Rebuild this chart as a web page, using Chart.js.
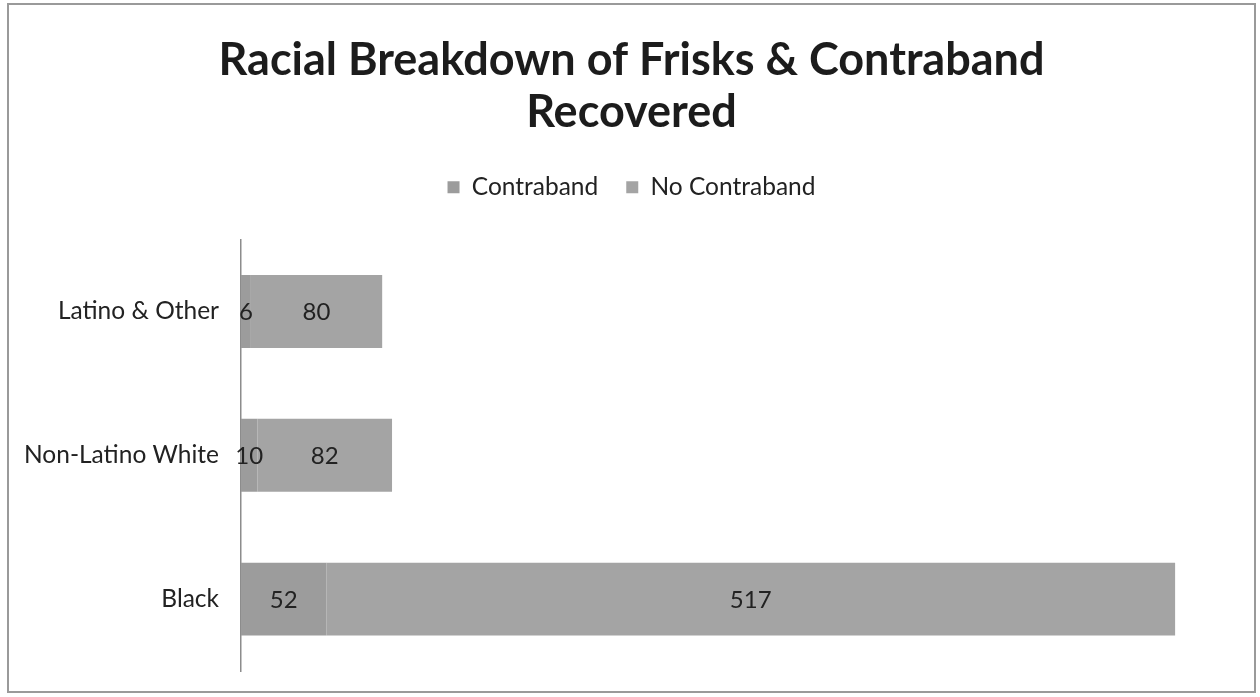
<!DOCTYPE html>
<html>
<head>
<meta charset="utf-8">
<script src="https://cdn.jsdelivr.net/npm/chart.js@4.4.1/dist/chart.umd.min.js"></script>
<style>
  html, body { margin: 0; padding: 0; background: #ffffff; }
  #frame {
    position: absolute; left: 7px; top: 3px;
    width: 1245px; height: 686px;
    border: 2px solid #9a9a9a;
    background: #ffffff;
  }
  #chart { display: block; }
</style>
</head>
<body>
<div id="frame"><canvas id="chart" width="1245" height="686"></canvas></div>
<script>
// Stop-and-frisk outcomes by race
const categories = ["Latino & Other", "Non-Latino White", "Black"];
const contraband = [6, 10, 52];
const noContraband = [80, 82, 517];
const seriesNames = ["Contraband", "No Contraband"];

const FONT = "Lato, 'Noto Sans', sans-serif";

// Writes each segment's value at the centre of its bar piece
const segmentLabels = {
  id: "segmentLabels",
  afterDatasetsDraw(chart) {
    const ctx = chart.ctx;
    ctx.save();
    ctx.font = "24px " + FONT;
    ctx.fillStyle = "#222222";
    ctx.textAlign = "center";
    ctx.textBaseline = "middle";
    chart.data.datasets.forEach((ds, i) => {
      chart.getDatasetMeta(i).data.forEach((bar, j) => {
        const left = Math.min(bar.x, bar.base);
        const right = Math.max(bar.x, bar.base);
        ctx.fillText(String(ds.data[j]), (left + right) / 2, bar.y + 1);
      });
    });
    ctx.restore();
  }
};

// Leaves extra room between the legend and the plot
const legendGap = {
  id: "legendGap",
  beforeUpdate(chart) {
    const lg = chart.legend;
    if (lg && !lg._gapPatched) {
      const fit = lg.fit;
      lg.fit = function () { fit.call(this); this.height += 30; };
      lg._gapPatched = true;
    }
  }
};

new Chart(document.getElementById("chart"), {
  type: "bar",
  data: {
    labels: categories,
    datasets: [
      { label: seriesNames[0], data: contraband, backgroundColor: "#9c9c9c" },
      { label: seriesNames[1], data: noContraband, backgroundColor: "#a4a4a4" }
    ]
  },
  options: {
    indexAxis: "y",
    responsive: false,
    animation: false,
    layout: { padding: { left: 0, right: 0, top: 0, bottom: 20 } },
    datasets: { bar: { categoryPercentage: 1.0, barPercentage: 0.507 } },
    scales: {
      x: {
        stacked: true, min: 0, max: 600, display: false
      },
      y: {
        stacked: true,
        grid: { display: false, drawTicks: true, tickLength: 17 },
        border: { display: true, color: "#8c8c8c", width: 1.5 },
        ticks: { color: "#222222", font: { family: FONT, size: 24.5 }, padding: 5 },
        afterFit(scale) { scale.width = 232; }
      },
      // empty margin on the right of the plot
      yRight: {
        type: "category",
        position: "right",
        grid: { display: false, drawTicks: false },
        border: { display: false },
        ticks: { display: false },
        afterFit(scale) { scale.width = 28; }
      }
    },
    plugins: {
      title: {
        display: true,
        text: ["Racial Breakdown of Frisks & Contraband", "Recovered"],
        color: "#1c1c1c",
        font: { family: FONT, size: 45, weight: "bold", lineHeight: 1.156 },
        padding: { top: 29, bottom: 9 }
      },
      legend: {
        display: true,
        position: "top",
        labels: {
          color: "#222222",
          font: { family: FONT, size: 24.5 },
          boxWidth: 12, boxHeight: 12, padding: 28
        }
      },
      tooltip: { enabled: false }
    }
  },
  plugins: [segmentLabels, legendGap]
});
</script>
</body>
</html>
